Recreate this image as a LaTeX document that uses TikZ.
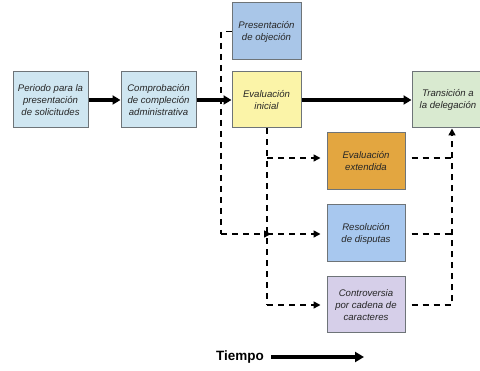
\documentclass[tikz,border=0pt]{standalone}
\usepackage{fontspec}
\setmainfont{Liberation Sans}
\usetikzlibrary{arrows.meta}
\definecolor{cLight}{HTML}{CFE6F1}
\definecolor{cObj}{HTML}{A9C6E8}
\definecolor{cYel}{HTML}{FBF4A8}
\definecolor{cGreen}{HTML}{D9EAD0}
\definecolor{cOrange}{HTML}{E3A640}
\definecolor{cRes}{HTML}{A8C8EF}
\definecolor{cLav}{HTML}{D6CFE9}
\definecolor{cEdge}{HTML}{6E7478}
\tikzset{
  box/.style={draw=cEdge, line width=1pt, align=center, inner sep=1pt,
    font=\fontsize{9.6}{12}\selectfont\itshape, text=black!85},
  solidarrow/.style={line width=3.2pt, -{Triangle[length=8pt,width=9pt]}},
  dsh/.style={line width=1.6pt, dash pattern=on 6pt off 5pt},
  dsharrow/.style={dsh, -{Triangle[length=7pt,width=7pt]}},
}
\begin{document}
\begin{tikzpicture}[x=1pt,y=-1pt]
\useasboundingbox (0,0) rectangle (480,371);
\begin{scope}
\clip (0,0) rectangle (480,371);
\node[box, fill=cLight, minimum width=75pt, minimum height=56pt] (p1) at (50.5,100) {Periodo para la\\presentación\\de solicitudes};
\node[box, fill=cLight, minimum width=75pt, minimum height=56pt] (p2) at (158.5,100) {Comprobación\\de compleción\\administrativa};
\node[box, fill=cObj, minimum width=69pt, minimum height=57pt] (obj) at (266.5,31.5) {Presentación\\de objeción};
\node[box, fill=cYel, minimum width=69pt, minimum height=56pt] (ini) at (266.5,100) {Evaluación\\inicial};
\node[box, fill=cGreen, minimum width=72pt, minimum height=56pt] (tr) at (448,100) {Transición a\\la delegación};
\node[box, fill=cOrange, minimum width=78pt, minimum height=57pt] (ext) at (366,161) {Evaluación\\extendida};
\node[box, fill=cRes, minimum width=78pt, minimum height=57pt] (res) at (366,233.5) {Resolución\\de disputas};
\node[box, fill=cLav, minimum width=78pt, minimum height=56pt] (con) at (366,305) {Controversia\\por cadena de\\caracteres};

% solid arrows
\draw[solidarrow] (p1.east) -- (p2.west);
\draw[solidarrow] (p2.east) -- (ini.west);
\draw[solidarrow] (ini.east) -- (tr.west);

% coordinates of dashed routes
\coordinate (lx) at (221,31.5);
\coordinate (jL) at (221,234);
\coordinate (jI) at (267,234);
\coordinate (jE) at (267,158);
\coordinate (rx) at (452,0);

% left dashed line from objection
\draw[dsh] (obj.west) -- (lx) -- (jL);
\draw[dsharrow] (jL) -- ([xshift=4pt]jI);
% inner dashed line from initial evaluation
\draw[dsh] (ini.south -| jI) -- (jI |- con.west) -- (con.west -| jI);
\draw[dsharrow, shorten >=6pt] (jE) -- (jE -| ext.west);
\draw[dsharrow, shorten >=6pt] (jI) -- (jI -| res.west);
\draw[dsharrow, shorten >=6pt] (jI |- con.west) -- (con.west);
% right dashed line to transition
\draw[dsh, shorten <=6pt] (jE -| ext.east) -- (jE -| rx);
\draw[dsh, shorten <=6pt] (jI -| res.east) -- (jI -| rx);
\draw[dsharrow, shorten <=6pt] (con.east) -- (con.east -| rx) -- (tr.south -| rx);

% time arrow
\node[font=\fontsize{13.5}{15}\selectfont\bfseries, anchor=east, inner sep=0pt] (tiempo) at (264,357) {Tiempo};
\coordinate (tend) at (364,357);
\draw[line width=3.4pt, -{Triangle[length=9pt,width=10pt]}] ([xshift=7pt]tiempo.east) -- (tend);
\end{scope}
\end{tikzpicture}
\end{document}
